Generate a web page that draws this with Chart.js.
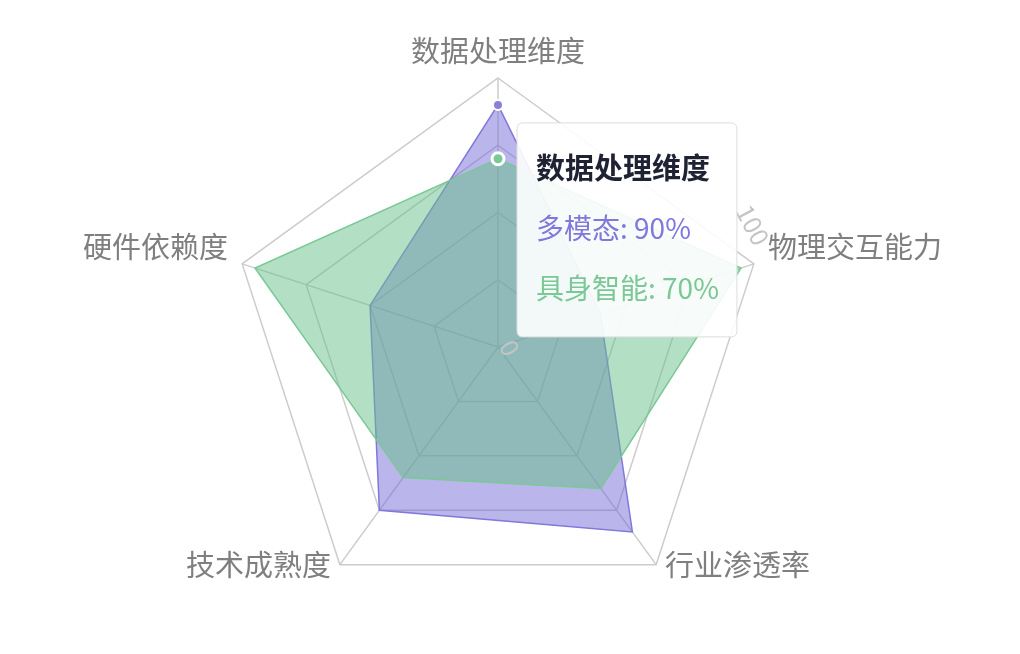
<!DOCTYPE html>
<html>
<head>
<meta charset="utf-8">
<script src="https://cdn.jsdelivr.net/npm/chart.js@4.4.1/dist/chart.umd.min.js"></script>
<style>
  html, body { margin: 0; padding: 0; background: #fff; }
  #wrap { width: 1020px; height: 654px; }
</style>
</head>
<body>
<div id="wrap"><canvas id="radarChart"></canvas></div>
<script>
const dimensions = ['数据处理维度', '物理交互能力', '行业渗透率', '技术成熟度', '硬件依赖度'];
const multimodal = [90, 40, 85, 75, 50];
const embodied = [70, 95, 65, 60, 95];
const seriesNames = ['多模态', '具身智能'];
const tickMarks = [0, 100];
const hoverIndex = 0;

const labelFont = '"Noto Sans CJK SC", "Noto Sans", sans-serif';

// Tooltip placed to the right of the hovered points
Chart.Tooltip.positioners.rightOf = function (items) {
    if (!items.length) return false;
    const x = items[0].element.x;
    const y = Math.min(...items.map(it => it.element.y));
    return { x: x + 25, y: y + 18, xAlign: 'left', yAlign: 'top' };
};

// Axis names drawn just outside each vertex, aligned away from the centre
const axisNamePlugin = {
    id: 'axisNames',
    afterDatasetsDraw(chart) {
        const scale = chart.scales.r;
        const ctx = chart.ctx;
        ctx.save();
        ctx.font = '29px ' + labelFont;
        ctx.fillStyle = '#7f7f7f';
        ctx.textBaseline = 'middle';
        dimensions.forEach((name, i) => {
            const p = scale.getPointPosition(i, scale.drawingArea + 15);
            const dx = p.x - scale.xCenter;
            ctx.textAlign = Math.abs(dx) < 1 ? 'center' : (dx > 0 ? 'left' : 'right');
            ctx.fillText(name, p.x, p.y - 12);
        });

        // "0" and "100" rotated next to the second axis
        const offsets = [[12, 1], [-1, -39]];
        ctx.font = '25px ' + labelFont;
        ctx.fillStyle = '#c4c4c4';
        ctx.textAlign = 'center';
        tickMarks.forEach((v, i) => {
            const p = scale.getPointPositionForValue(1, v);
            ctx.save();
            ctx.translate(p.x + offsets[i][0], p.y + offsets[i][1]);
            ctx.rotate(62 * Math.PI / 180);
            ctx.fillText(String(v), 0, 0);
            ctx.restore();
        });
        ctx.restore();
    }
};

const ctx = document.getElementById('radarChart').getContext('2d');
const chart = new Chart(ctx, {
    type: 'radar',
    data: {
        labels: dimensions,
        datasets: [{
            label: seriesNames[0],
            data: multimodal,
            order: 2,
            borderColor: 'rgb(128,120,218)',
            backgroundColor: 'rgba(110,100,212,0.48)',
            borderWidth: 1.5,
            pointRadius: 0,
            pointHoverRadius: 5,
            pointBackgroundColor: 'rgb(138,128,216)',
            pointHoverBackgroundColor: 'rgb(138,128,216)',
            pointHoverBorderColor: '#fff',
            pointHoverBorderWidth: 2
        }, {
            label: seriesNames[1],
            data: embodied,
            order: 1,
            borderColor: 'rgb(122,200,150)',
            backgroundColor: 'rgba(103,191,139,0.5)',
            borderWidth: 1.5,
            pointRadius: 0,
            pointHoverRadius: 6,
            pointBackgroundColor: 'rgb(124,200,150)',
            pointHoverBackgroundColor: 'rgb(124,200,150)',
            pointHoverBorderColor: '#fff',
            pointHoverBorderWidth: 3
        }]
    },
    options: {
        responsive: true,
        maintainAspectRatio: false,
        animation: false,
        events: [],
        layout: {
            padding: { left: 198, right: 222, top: 78, bottom: 38 }
        },
        scales: {
            r: {
                min: 0,
                max: 100,
                ticks: { stepSize: 25, display: false },
                grid: { color: '#cccccc', lineWidth: 1.5 },
                angleLines: { color: '#cccccc', lineWidth: 1.5 },
                pointLabels: { display: false }
            }
        },
        plugins: {
            legend: { display: false },
            tooltip: {
                position: 'rightOf',
                backgroundColor: 'rgba(255,255,255,0.9)',
                borderColor: '#dddddd',
                borderWidth: 1,
                cornerRadius: 6,
                caretSize: 0,
                caretPadding: 0,
                displayColors: false,
                padding: { top: 28, bottom: 32, left: 19, right: 18 },
                titleColor: '#1f2233',
                titleFont: { family: labelFont, size: 29, weight: 'bold' },
                titleMarginBottom: 26,
                bodyFont: { family: labelFont, size: 28 },
                bodySpacing: 26,
                itemSort: (a, b) => a.datasetIndex - b.datasetIndex,
                callbacks: {
                    label: item => item.dataset.label + ': ' + item.raw + '%',
                    labelTextColor: item => item.dataset.borderColor
                }
            }
        }
    },
    plugins: [axisNamePlugin]
});

const active = [
    { datasetIndex: 0, index: hoverIndex },
    { datasetIndex: 1, index: hoverIndex }
];
chart.setActiveElements(active);
chart.tooltip.setActiveElements(active, { x: 0, y: 0 });
chart.update();
</script>
</body>
</html>
